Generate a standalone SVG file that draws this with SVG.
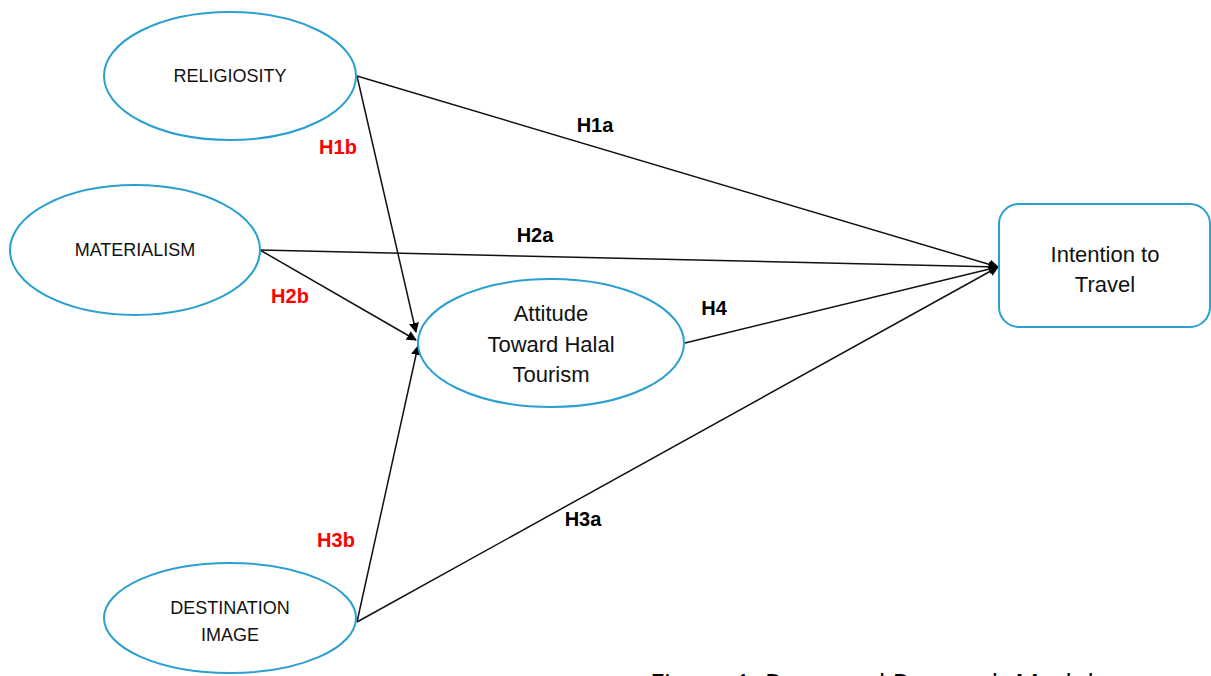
<svg xmlns="http://www.w3.org/2000/svg" width="1211" height="676" viewBox="0 0 1211 676">
<style>
.node{fill:#fff;stroke:#2a9fd0;stroke-width:2}
.t{font-family:"Liberation Sans",Arial,sans-serif;fill:#111;text-anchor:middle;dominant-baseline:central}
.sm{font-size:18px}
.lg{font-size:22px}
.lbl{font-family:"Liberation Sans",Arial,sans-serif;font-weight:bold;font-size:20px;text-anchor:middle;dominant-baseline:central}
.blk{fill:#000}
.red{fill:#ff0000}
.c{stroke:#111;stroke-width:1.5;fill:none;marker-end:url(#ah)}
</style>
<defs>
<marker id="ah" viewBox="0 0 10 10" refX="9" refY="5" markerWidth="10" markerHeight="10" markerUnits="userSpaceOnUse" orient="auto">
<path d="M0,0 L10,5 L0,10 z" fill="#000"/>
</marker>
</defs>
<rect width="1211" height="676" fill="#fff"/>
<g id="connectors">
<line class="c" x1="357" y1="76" x2="998" y2="267"/>
<line class="c" x1="357" y1="76" x2="416" y2="332"/>
<line class="c" x1="260" y1="250" x2="998" y2="267"/>
<line class="c" x1="260" y1="250" x2="416" y2="340"/>
<line class="c" x1="685" y1="343" x2="998" y2="267"/>
<line class="c" x1="357" y1="622" x2="998" y2="267"/>
<line class="c" x1="357" y1="622" x2="418" y2="346"/>
</g>
<g id="religiosity">
<ellipse class="node" cx="230" cy="76" rx="126" ry="64"/>
<text class="t sm" x="230" y="76">RELIGIOSITY</text>
</g>
<g id="materialism">
<ellipse class="node" cx="135" cy="250" rx="125" ry="65"/>
<text class="t sm" x="135" y="250">MATERIALISM</text>
</g>
<g id="attitude">
<ellipse class="node" cx="551" cy="343" rx="133" ry="64"/>
<text class="t lg" x="551" y="313">Attitude</text>
<text class="t lg" x="551" y="344">Toward Halal</text>
<text class="t lg" x="551" y="374">Tourism</text>
</g>
<g id="intention">
<rect class="node" x="999" y="204" width="211" height="123" rx="20"/>
<text class="t lg" x="1105" y="254">Intention to</text>
<text class="t lg" x="1105" y="284">Travel</text>
</g>
<g id="destination">
<ellipse class="node" cx="230" cy="618" rx="126" ry="55"/>
<text class="t sm" x="230" y="608">DESTINATION</text>
<text class="t sm" x="230" y="635">IMAGE</text>
</g>
<g id="labels">
<text class="lbl blk" x="595" y="125">H1a</text>
<text class="lbl blk" x="535" y="235">H2a</text>
<text class="lbl blk" x="714" y="308">H4</text>
<text class="lbl blk" x="583" y="519">H3a</text>
<text class="lbl red" x="338" y="147">H1b</text>
<text class="lbl red" x="290" y="296">H2b</text>
<text class="lbl red" x="336" y="540">H3b</text>
</g>
<text x="650" y="694" font-family="'Open Sans','Liberation Sans',sans-serif" font-size="27" fill="#000">Figure 1. Proposed Research Model</text>
</svg>
